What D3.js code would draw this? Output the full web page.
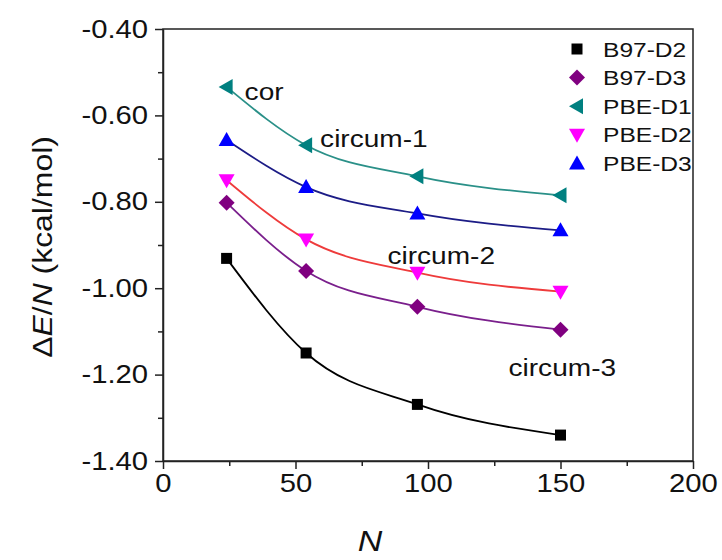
<!DOCTYPE html>
<html><head><meta charset="utf-8">
<script src="https://cdn.jsdelivr.net/npm/d3@7"></script>
<style>body{margin:0;background:#fff}svg{display:block;font-family:Arial,"Liberation Sans",sans-serif}</style>
</head><body>
<svg id="c" width="722" height="560"></svg>
<script>
const sizes = [24, 54, 96, 150];
const seriesNames = ["B97-D2", "B97-D3", "PBE-D1", "PBE-D2", "PBE-D3"];
const b97d2 = [-0.931, -1.150, -1.269, -1.340];
const b97d3 = [-0.802, -0.960, -1.043, -1.096];
const pbed1 = [-0.534, -0.669, -0.741, -0.785];
const pbed2 = [-0.750, -0.887, -0.964, -1.008];
const pbed3 = [-0.657, -0.766, -0.827, -0.866];
const xTicks = [0, 50, 100, 150, 200];
const yTicks = [-1.4, -1.2, -1.0, -0.8, -0.6, -0.4];
const annotations = [
  {text: "cor", x: 24, y: -0.534},
  {text: "circum-1", x: 54, y: -0.669},
  {text: "circum-2", x: 96, y: -0.964},
  {text: "circum-3", x: 150, y: -1.096}
];

const SX = 1.17; // horizontal stretch of the lettering
const markerColor = ["#000000", "#800080", "#008080", "#ff00ff", "#0000ff"];
const lineColor = ["#000000", "#7a1f8c", "#2a9088", "#ee3b3b", "#1c1c86"];
const symbolKind = ["square", "diamond", "left", "down", "up"];
const values = [b97d2, b97d3, pbed1, pbed2, pbed3];

const svg = d3.select("#c");
const x = d3.scaleLinear().domain([0, 200]).range([163, 693]);
const y = d3.scaleLinear().domain([-1.4, -0.4]).range([461, 29]);

function stretchedText(px, py, str, size, anchor) {
  return svg.append("text").attr("transform", `translate(${px},${py}) scale(${SX},1)`)
    .attr("font-size", size).attr("fill", "#111").attr("text-anchor", anchor || "start").text(str);
}

// frame
svg.append("rect").attr("x", 163).attr("y", 29).attr("width", 530).attr("height", 432)
  .attr("fill", "none").attr("stroke", "#222").attr("stroke-width", 1.5);

// axes
const xAxis = d3.axisBottom(x).tickValues(xTicks).tickSize(8).tickSizeOuter(0).tickFormat(d3.format("d"));
const gx = svg.append("g").attr("transform", "translate(0,461)").call(xAxis);
gx.select(".domain").attr("stroke", "#222").attr("stroke-width", 1.5);
gx.selectAll(".tick line").attr("stroke", "#222").attr("stroke-width", 1.5);
gx.selectAll(".tick text").attr("font-size", 25).attr("dy", "0.8em").attr("fill", "#111")
  .attr("font-family", "Arial, 'Liberation Sans', sans-serif")
  .attr("transform", `scale(${SX},1)`);
const xMinor = d3.axisBottom(x).tickValues([25, 75, 125, 175]).tickSize(5).tickFormat("");
const gxm = svg.append("g").attr("transform", "translate(0,461)").call(xMinor);
gxm.select(".domain").remove();
gxm.selectAll(".tick line").attr("stroke", "#222").attr("stroke-width", 1.5);

const yAxis = d3.axisLeft(y).tickValues(yTicks).tickSize(8).tickSizeOuter(0).tickFormat(d3.format(".2f"));
const gy = svg.append("g").attr("transform", "translate(163,0)").call(yAxis);
gy.select(".domain").attr("stroke", "#222").attr("stroke-width", 1.5);
gy.selectAll(".tick line").attr("stroke", "#222").attr("stroke-width", 1.5);
gy.selectAll(".tick text").attr("font-size", 25).attr("x", -15 / SX).attr("fill", "#111")
  .attr("font-family", "Arial, 'Liberation Sans', sans-serif")
  .attr("transform", `scale(${SX},1)`)
  .text(d => d3.format(".2f")(d).replace("−", "-"));
const yMinor = d3.axisLeft(y).tickValues([-1.3, -1.1, -0.9, -0.7, -0.5]).tickSize(5).tickFormat("");
const gym = svg.append("g").attr("transform", "translate(163,0)").call(yMinor);
gym.select(".domain").remove();
gym.selectAll(".tick line").attr("stroke", "#222").attr("stroke-width", 1.5);

// axis titles
stretchedText(370, 551, "N", 29, "middle").attr("font-style", "italic");
const yt = svg.append("text").attr("transform", `translate(52,247) rotate(-90) scale(1.14,1)`)
  .attr("text-anchor", "middle").attr("font-size", 28).attr("fill", "#111");
yt.append("tspan").text("Δ");
yt.append("tspan").attr("font-style", "italic").text("E");
yt.append("tspan").text("/");
yt.append("tspan").attr("font-style", "italic").text("N");
yt.append("tspan").text(" (kcal/mol)");

// symbols
function symbolPath(kind) {
  const s = 7;
  if (kind === "square") return `M${-5.5},${-5.5}h11v11h-11z`;
  if (kind === "diamond") return `M0,${-s-1}L${s+1},0L0,${s+1}L${-s-1},0Z`;
  if (kind === "up") return `M0,${-s-1}L${s+1},${s-1}L${-s-1},${s-1}Z`;
  if (kind === "down") return `M0,${s+1}L${s+1},${-s+1}L${-s-1},${-s+1}Z`;
  if (kind === "left") return `M${-s-1},0L${s-1},${-s-1}L${s-1},${s+1}Z`;
}

const line = d3.line().x(d => x(d[0])).y(d => y(d[1])).curve(d3.curveMonotoneX);

values.forEach((vals, i) => {
  const pts = sizes.map((n, j) => [n, vals[j]]);
  svg.append("path").datum(pts).attr("d", line).attr("fill", "none")
    .attr("stroke", lineColor[i]).attr("stroke-width", 1.8);
});
values.forEach((vals, i) => {
  const pts = sizes.map((n, j) => [n, vals[j]]);
  svg.append("g").selectAll("path").data(pts).join("path")
    .attr("transform", d => `translate(${x(d[0])},${y(d[1])})`)
    .attr("d", symbolPath(symbolKind[i])).attr("fill", markerColor[i]);
});

// annotations
const annOffset = [[18, 13], [14, 2], [-30, -9], [-52, 46]];
annotations.forEach((a, i) => {
  stretchedText(x(a.x) + annOffset[i][0], y(a.y) + annOffset[i][1], a.text, 24);
});

// legend
seriesNames.forEach((name, i) => {
  const ly = 49 + i * 28.6;
  svg.append("path").attr("transform", `translate(577,${ly})`)
    .attr("d", symbolPath(symbolKind[i])).attr("fill", markerColor[i]);
  stretchedText(603, ly + 7.5, name, 21);
});
</script>
</body></html>
